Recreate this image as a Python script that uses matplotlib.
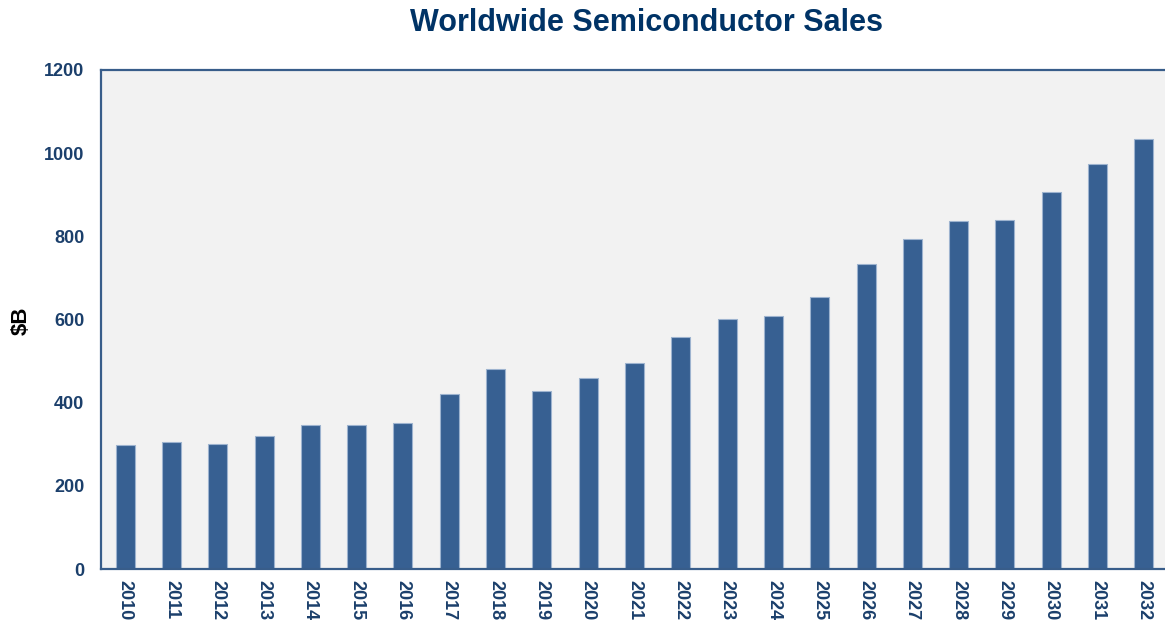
import matplotlib
matplotlib.use('Agg')
import matplotlib.pyplot as plt

plt.rcParams['font.family'] = ['Liberation Sans', 'DejaVu Sans']

years = [str(y) for y in range(2010, 2033)]
sales = [297, 305, 300, 319, 346, 346, 351, 421, 481, 429, 460, 496,
         557, 602, 609, 653, 733, 793, 836, 839, 906, 975, 1035]
yticks = [0, 200, 400, 600, 800, 1000, 1200]

navy = '#1B3F6B'
bar_color = '#376092'

fig = plt.figure(figsize=(11.65, 6.23), dpi=100)
ax = fig.add_axes([101 / 1165, 54 / 623, 1067 / 1165, 499 / 623])
ax.set_facecolor('#F2F2F2')

x = list(range(len(years)))
ax.bar(x, sales, width=0.41, color=bar_color, edgecolor='#9DB3CF', linewidth=0.8)

ax.set_xlim(-0.52, len(years) - 0.48)
ax.set_ylim(0, 1200)
ax.set_yticks(yticks)
ax.set_xticks(x)
ax.set_xticklabels(years, rotation=270, va='top')
ax.tick_params(axis='both', length=0, labelsize=13, labelcolor=navy)
ax.tick_params(axis='x', pad=8)
ax.tick_params(axis='y', pad=12)
for lab in ax.get_xticklabels() + ax.get_yticklabels():
    lab.set_fontweight('bold')

for side in ['left', 'bottom', 'top']:
    ax.spines[side].set_color('#385D8A')
    ax.spines[side].set_linewidth(1.6)
ax.spines['right'].set_visible(False)

fig.text(21 / 1165, 1 - 321 / 623, '$B', fontsize=16, fontweight='bold',
         color='black', rotation=90, ha='center', va='center')
fig.text(647 / 1165, 1 - 23 / 623, 'Worldwide Semiconductor Sales', fontsize=22,
         fontweight='bold', color='#003366', ha='center', va='center')

fig.savefig('out.png', dpi=100)
